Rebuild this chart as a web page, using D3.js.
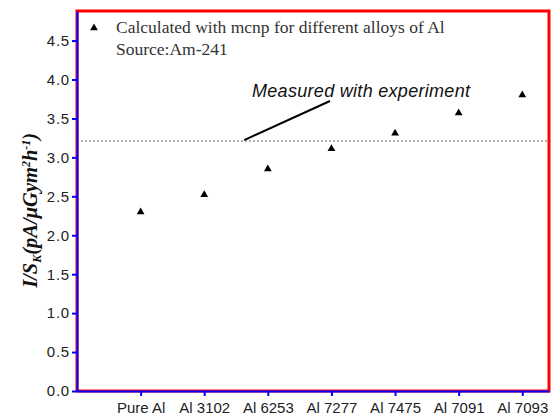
<!DOCTYPE html>
<html>
<head>
<meta charset="utf-8">
<script src="https://cdn.jsdelivr.net/npm/d3@7"></script>
<style>
  body { margin: 0; background: #fff; }
</style>
</head>
<body>
<div id="chart"></div>
<script>
// data
const alloys = ["Pure Al", "Al 3102", "Al 6253", "Al 7277", "Al 7475", "Al 7091", "Al 7093"];
const ratio = [2.30, 2.52, 2.85, 3.11, 3.31, 3.57, 3.80];
const measured = 3.21;
const yTicks = [0, 0.5, 1.0, 1.5, 2.0, 2.5, 3.0, 3.5, 4.0, 4.5];

const W = 552, H = 415;
const margin = { top: 11, right: 3, bottom: 24, left: 77 };
const x0 = margin.left, x1 = W - margin.right;
const y0 = H - margin.bottom, y1 = margin.top;

const svg = d3.select("#chart")
    .append("svg")
    .attr("width", W)
    .attr("height", H);

const xScale = d3.scaleLinear()
    .domain([0, 7.42])
    .range([x0, x1]);

const yScale = d3.scaleLinear()
    .domain([0, 4.88])
    .range([y0, y1]);

// frame (drawn first, diagnostic colour)
svg.append("rect")
    .attr("x", x0).attr("y", y1)
    .attr("width", x1 - x0).attr("height", y0 - y1)
    .attr("fill", "none")
    .attr("stroke", "red")
    .attr("stroke-width", 3);

// measured level
svg.append("line")
    .attr("x1", x0).attr("x2", x1)
    .attr("y1", yScale(measured)).attr("y2", yScale(measured))
    .attr("stroke", "#999")
    .attr("stroke-width", 1.5)
    .attr("stroke-dasharray", "2,2");

// x axis
const xAxis = d3.axisBottom(xScale)
    .tickValues(alloys.map((d, i) => i + 1))
    .tickFormat((d) => alloys[d - 1])
    .tickSize(5)
    .tickSizeOuter(0);

const xg = svg.append("g")
    .attr("transform", `translate(0,${y0})`)
    .call(xAxis);
xg.selectAll("path, line").attr("stroke", "blue").attr("stroke-width", 2);
xg.selectAll("text")
    .attr("dy", "0.95em")
    .attr("fill", "#222")
    .style("font-family", "'Liberation Sans', Arial, sans-serif")
    .style("font-size", "15px");

// y axis
const yAxis = d3.axisLeft(yScale)
    .tickValues(yTicks)
    .tickFormat(d3.format(".1f"))
    .tickSize(5)
    .tickSizeOuter(0);

const yg = svg.append("g")
    .attr("transform", `translate(${x0},0)`)
    .call(yAxis);
yg.selectAll("path, line").attr("stroke", "blue").attr("stroke-width", 2);
yg.selectAll("text")
    .attr("x", -7)
    .attr("fill", "#222")
    .style("font-family", "'Liberation Sans', Arial, sans-serif")
    .style("font-size", "15px")
    .style("letter-spacing", "0.8px");

// y title
const yTitle = svg.append("text")
    .attr("transform", `translate(37,${yScale(2.32)}) rotate(-90)`)
    .attr("text-anchor", "middle")
    .style("font-family", "'Liberation Serif', 'Times New Roman', serif")
    .style("font-size", "20.5px")
    .style("font-weight", "bold")
    .style("font-style", "italic")
    .attr("fill", "#111");
yTitle.append("tspan").text("I/S");
yTitle.append("tspan").attr("dy", 4).style("font-size", "12px").text("K");
yTitle.append("tspan").attr("dy", -4).text("(pA/μGym");
yTitle.append("tspan").attr("dy", -7).style("font-size", "12px").text("2");
yTitle.append("tspan").attr("dy", 7).text("h");
yTitle.append("tspan").attr("dy", -7).style("font-size", "12px").text("-1");
yTitle.append("tspan").attr("dy", 7).text(")");

// points
const tri = d3.symbol().type(d3.symbolTriangle).size(26);
svg.append("g")
    .selectAll("path")
    .data(ratio)
    .enter()
    .append("path")
    .attr("d", tri)
    .attr("transform", (d, i) => `translate(${xScale(i + 1)},${yScale(d)})`)
    .attr("fill", "#000");

// legend
svg.append("path")
    .attr("d", tri)
    .attr("transform", "translate(94,28)")
    .attr("fill", "#000");

const legend = svg.append("text")
    .style("font-family", "'Liberation Serif', 'Times New Roman', serif")
    .style("font-size", "17.5px")
    .attr("fill", "#333");
legend.append("tspan").attr("x", 116).attr("y", 33)
    .text("Calculated with mcnp for different alloys of Al");
legend.append("tspan").attr("x", 116).attr("y", 55)
    .text("Source:Am-241");

// annotation
svg.append("line")
    .attr("x1", xScale(2.63)).attr("y1", yScale(measured) - 1)
    .attr("x2", 330).attr("y2", 101)
    .attr("stroke", "#000")
    .attr("stroke-width", 2);

svg.append("text")
    .attr("x", 252)
    .attr("y", 97)
    .style("font-family", "'Liberation Sans', Arial, sans-serif")
    .style("font-size", "18px")
    .style("font-style", "italic")
    .style("letter-spacing", "0.3px")
    .attr("fill", "#111")
    .text("Measured with experiment");
</script>
</body>
</html>
